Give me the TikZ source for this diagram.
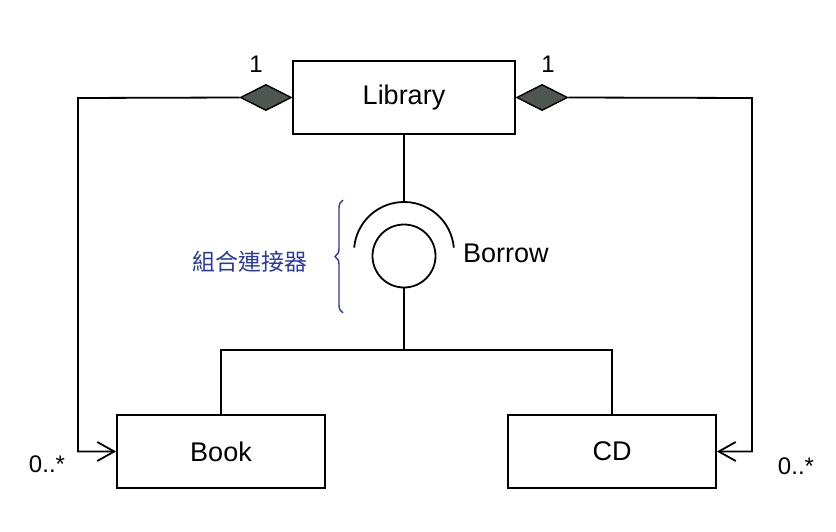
\documentclass[tikz,border=0pt]{standalone}
\usepackage{fontspec}
\setmainfont{Liberation Sans}
\newfontfamily\cjkfont{Noto Sans CJK TC}
\usetikzlibrary{shapes.geometric,arrows.meta,decorations.pathreplacing}
\definecolor{notecol}{HTML}{2B3A9C}
\definecolor{diacol}{HTML}{4E5652}
\tikzset{
  line/.style={line width=1.8pt, black},
  classbox/.style={draw, line width=1.8pt, rectangle, minimum width=222pt, minimum height=73pt, inner sep=0pt, font=\fontsize{27}{30}\selectfont},
  leafbox/.style={classbox, minimum width=208pt},
  comp/.style={draw, line width=1.4pt, fill=diacol, shape=diamond, minimum width=51pt, minimum height=26pt, inner sep=0pt},
  lbl/.style={font=\fontsize{24}{26}\selectfont, inner sep=0pt},
  opentip/.style={-{Straight Barb[length=17pt,width=19pt,line width=1.8pt]}}
}
\begin{document}
\begin{tikzpicture}[x=1pt,y=-1pt]
\useasboundingbox (0,0) rectangle (836,532);
% classes
\node[classbox] (lib) at (404,97.5) {Library};
\node[leafbox] (book) at (221,451.5) {Book};
\node[leafbox] (cd) at (612,451.5) {CD};
% composition diamonds
\node[comp, anchor=east] (dl) at (lib.west) {};
\node[comp, anchor=west] (dr) at (lib.east) {};
% multiplicities
\node[lbl] (m1) at (256,64) {1};
\node[lbl] (m2) at (548,64) {1};
\node[lbl] (m3) at (47,464) {0..*};
\node[lbl] (m4) at (796,466) {0..*};
% composition connectors
\coordinate (lcorner) at (78,98);
\coordinate (rcorner) at (752,98);
\draw[line, opentip] (dl.west) -- (lcorner) |- (book.west);
\draw[line, opentip] (dr.east) -- (rcorner) |- (cd.east);
% assembly connector
\coordinate (sockc) at (404,252);
\coordinate (socktop) at (404,202);
\node[draw, line width=1.8pt, circle, minimum size=63pt, inner sep=0pt] (ball) at (404,256) {};
\draw[line] (lib.south) -- (socktop);
\draw[line] ([shift={(5:50pt)}]sockc) arc[start angle=5, end angle=175, radius=50pt];
\node[font=\fontsize{27}{30}\selectfont, anchor=west, inner sep=0pt] (borrow) at (463,253) {Borrow};
\coordinate (j) at (404,350);
\draw[line] (ball.south) -- (j);
\draw[line] (book.north) |- (j) -| (cd.north);
% annotation
\coordinate (bb) at (343,313);
\coordinate (bt) at (343,200);
\draw[notecol, line width=1.4pt, decorate, decoration={brace, amplitude=8pt}] (bb) -- (bt);
\node[notecol, font=\cjkfont\fontsize{23}{26}\selectfont, inner sep=0pt] (note) at (250,262) {組合連接器};
\end{tikzpicture}
\end{document}
